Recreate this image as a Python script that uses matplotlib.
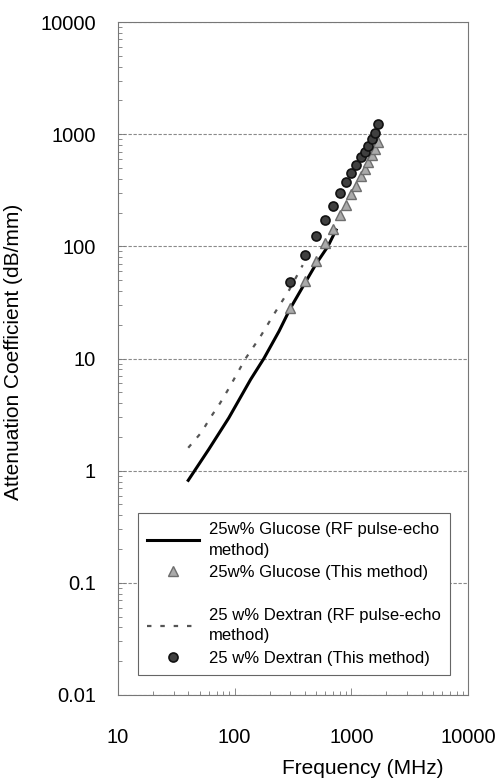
"""Attenuation coefficient vs frequency for glucose and dextran solutions."""

import numpy as np
import matplotlib.pyplot as plt
import matplotlib as mpl
from matplotlib.lines import Line2D
from matplotlib.ticker import FixedLocator, LogLocator, NullFormatter

mpl.rcParams['font.family'] = ['Liberation Sans', 'DejaVu Sans']

# RF pulse-echo curves (MHz, dB/mm)
glu_rf_freq = [40, 60, 89, 137, 178, 240, 300, 400, 500, 630, 740]
glu_rf_att = [0.82, 1.55, 2.95, 6.5, 10, 17.5, 28, 47, 70, 100, 140]

dex_rf_freq = [40, 52, 61, 75, 89, 124, 165, 218, 258, 294, 383]
dex_rf_att = [1.6, 2.2, 2.9, 4.0, 5.4, 10, 15.5, 25, 33, 41, 68]

# this method, 300-1700 MHz
freq = [300, 400, 500, 600, 700, 800, 900, 1000, 1100, 1200, 1300, 1400,
        1500, 1600, 1700]
glu_att = [28, 49, 74, 106, 142, 189, 232, 291, 345, 420, 490, 560, 650,
           735, 845]
dex_att = [48, 83, 124, 172, 229, 297, 371, 455, 530, 620, 700, 780, 910,
           1030, 1230]

x_ticks = [10, 100, 1000, 10000]
y_ticks = [0.01, 0.1, 1, 10, 100, 1000, 10000]

fig = plt.figure(figsize=(5.01, 7.82), dpi=100)
ax = fig.add_axes([118 / 501, 1 - 695 / 782, 350 / 501, 673 / 782])

ax.plot(glu_rf_freq, glu_rf_att, '-', color='black', lw=2.2, zorder=3)
ax.plot(freq, glu_att, '^', ms=6.5, mfc='#aaaaaa', mec='#6e6e6e', mew=1.0,
        zorder=4)
ax.plot(dex_rf_freq, dex_rf_att, color='#555555', lw=1.6, ls=(0, (2, 4)),
        zorder=3)
ax.plot(freq, dex_att, 'o', ms=6.5, mfc='#404040', mec='#111111', mew=1.2,
        zorder=4)

ax.set_xscale('log')
ax.set_yscale('log')
ax.set_xlim(10, 10000)
ax.set_ylim(0.01, 10000)

ax.xaxis.set_major_locator(FixedLocator(x_ticks))
ax.yaxis.set_major_locator(FixedLocator(y_ticks))
ax.set_xticklabels([str(t) for t in x_ticks])
ax.set_yticklabels(['0.01', '0.1', '1', '10', '100', '1000', '10000'])
ax.xaxis.set_minor_locator(LogLocator(base=10, subs=np.arange(2, 10)))
ax.yaxis.set_minor_locator(LogLocator(base=10, subs=np.arange(2, 10)))
ax.xaxis.set_minor_formatter(NullFormatter())
ax.yaxis.set_minor_formatter(NullFormatter())

ax.tick_params(which='both', direction='in', color='#777777', width=0.6,
               top=False, right=False)
ax.tick_params(which='major', length=5)
ax.tick_params(which='minor', length=3)
ax.tick_params(axis='y', which='major', labelsize=14.5, pad=16)
ax.tick_params(axis='x', which='major', labelsize=14.5, pad=24)

for s in ax.spines.values():
    s.set_color('#777777')
    s.set_linewidth(0.8)

ax.grid(axis='y', which='major', color='#8a8a8a', lw=0.8, ls=(0, (3, 1.5)))
ax.set_axisbelow(True)

ax.set_xlabel('Frequency (MHz)', fontsize=15)
ax.xaxis.set_label_coords(0.70, -0.095)
ax.set_ylabel('Attenuation Coefficient (dB/mm)', fontsize=15)
ax.yaxis.set_label_coords(-0.27, 0.51)

# legend with a spacer row between the two solutions
handles = [Line2D([], [], color='black', lw=2.2),
           Line2D([], [], ls='none', marker='^', ms=6.5, mfc='#aaaaaa',
                  mec='#6e6e6e', mew=1.0),
           Line2D([], [], color='none'),
           Line2D([], [], color='#555555', lw=1.6, ls=(0, (2, 4))),
           Line2D([], [], ls='none', marker='o', ms=6.5, mfc='#404040',
                  mec='#111111', mew=1.2)]
labels = ['25w% Glucose (RF pulse-echo\nmethod)',
          '25w% Glucose (This method)', ' ',
          '25 w% Dextran (RF pulse-echo\nmethod)',
          '25 w% Dextran (This method)']
leg = ax.legend(handles, labels, loc='lower left',
                bbox_to_anchor=(20 / 350, 20 / 673), borderaxespad=0,
                fontsize=12, frameon=True, fancybox=False, framealpha=1,
                edgecolor='#666666', handlelength=3.1, handletextpad=0.6,
                borderpad=0.55, labelspacing=0.45)
leg.get_frame().set_linewidth(0.8)
for t in leg.get_texts():
    t.set_linespacing(1.45)
leg.get_texts()[2].set_fontsize(2)

fig.savefig('out.png', dpi=100)
